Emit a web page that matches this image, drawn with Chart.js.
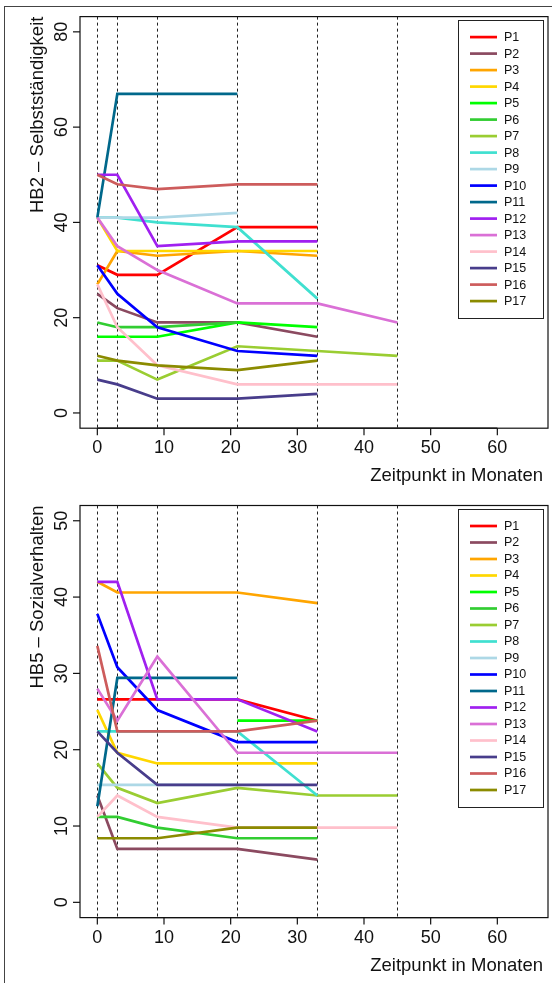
<!DOCTYPE html>
<html>
<head>
<meta charset="utf-8">
<script src="https://cdn.jsdelivr.net/npm/chart.js@4.4.1/dist/chart.umd.min.js"></script>
<style>
  html, body { margin: 0; padding: 0; background: #fff; }
  body { width: 552px; height: 983px; position: relative; overflow: hidden; }
  #frame { position: absolute; left: 4px; top: 6px; width: 600px; height: 1000px;
           border-top: 1px solid #444; border-left: 1px solid #444; }
  canvas { position: absolute; left: 0; }
  #c1 { top: 0; }
  #c2 { top: 490px; }
</style>
</head>
<body>
<div id="frame"></div>
<canvas id="c1" width="552" height="490"></canvas>
<canvas id="c2" width="552" height="493"></canvas>
<script>
// ---------- data ----------
const times = [0, 3, 9, 21, 33, 45];
const markTimes = [0, 3, 9, 21, 33, 45];
const xTicks = [0, 10, 20, 30, 40, 50, 60];
const yTicksHB2 = [0, 20, 40, 60, 80];
const yTicksHB5 = [0, 10, 20, 30, 40, 50];
const seriesNames = ['P1','P2','P3','P4','P5','P6','P7','P8','P9','P10','P11','P12','P13','P14','P15','P16','P17'];
const seriesColors = ['#FF0000','#8B4A60','#FFA500','#FFD700','#00FF00','#32CD32','#9ACD32','#40E0D0',
                      '#ADD8E6','#0000FF','#00688B','#A020F0','#DA70D6','#FFC0CB','#483D8B','#CD5C5C','#8B8B00'];

// HB2 – Selbstständigkeit
const hb2P1  = [31, 29, 29, 39, 39];
const hb2P2  = [25, 22, 19, 19, 16];
const hb2P3  = [27, 34, 33, 34, 33];
const hb2P4  = [41, 34, 34, 34, 34];
const hb2P5  = [16, 16, 16, 19, 18];
const hb2P6  = [19, 18, 18, 19];
const hb2P7  = [11, 11, 7, 14, 13, 12];
const hb2P8  = [41, 41, 40, 39, 24];
const hb2P9  = [41, 41, 41, 42];
const hb2P10 = [31, 25, 18, 13, 12];
const hb2P11 = [41, 67, 67, 67];
const hb2P12 = [50, 50, 35, 36, 36];
const hb2P13 = [41, 35, 30, 23, 23, 19];
const hb2P14 = [27, 18, 10, 6, 6, 6];
const hb2P15 = [7, 6, 3, 3, 4];
const hb2P16 = [50, 48, 47, 48, 48];
const hb2P17 = [12, 11, 10, 9, 11];

// HB5 – Sozialverhalten
const hb5P1  = [26.6, 26.6, 26.6, 26.6, 23.8];
const hb5P2  = [14.0, 7.0, 7.0, 7.0, 5.6];
const hb5P3  = [42.0, 40.6, 40.6, 40.6, 39.2];
const hb5P4  = [25.2, 19.6, 18.2, 18.2, 18.2];
const hb5P5  = [null, null, null, 23.8, 23.8];
const hb5P6  = [11.2, 11.2, 9.8, 8.4, 8.4];
const hb5P7  = [18.2, 15.0, 13.0, 15.0, 14.0, 14.0];
const hb5P8  = [22.4, 22.4, 22.4, 22.4, 14.0];
const hb5P9  = [15.4, 15.4, 15.4, 15.4];
const hb5P10 = [37.8, 30.8, 25.2, 21.0, 21.0];
const hb5P11 = [12.6, 29.4, 29.4, 29.4];
const hb5P12 = [42.0, 42.0, 26.6, 26.6, 22.4];
const hb5P13 = [28.0, 23.8, 32.2, 19.6, 19.6, 19.6];
const hb5P14 = [11.2, 14.0, 11.2, 9.8, 9.8, 9.8];
const hb5P15 = [22.4, 19.6, 15.4, 15.4, 15.4];
const hb5P16 = [33.6, 22.4, 22.4, 22.4, 23.8];
const hb5P17 = [8.4, 8.4, 8.4, 9.8, 9.8];

const hb2Series = [hb2P1,hb2P2,hb2P3,hb2P4,hb2P5,hb2P6,hb2P7,hb2P8,hb2P9,hb2P10,hb2P11,hb2P12,hb2P13,hb2P14,hb2P15,hb2P16,hb2P17];
const hb5Series = [hb5P1,hb5P2,hb5P3,hb5P4,hb5P5,hb5P6,hb5P7,hb5P8,hb5P9,hb5P10,hb5P11,hb5P12,hb5P13,hb5P14,hb5P15,hb5P16,hb5P17];

// ---------- helpers ----------
const FONT = '"Liberation Sans", Arial, Helvetica, sans-serif';
function rRange(lo, hi) { const d = (hi - lo) * 0.04; return [lo - d, hi + d]; }

function makeDatasets(series) {
  return series.map((vals, i) => ({
    label: seriesNames[i],
    data: vals.map((v, k) => (v == null ? null : { x: times[k], y: v })).filter(p => p),
    borderColor: seriesColors[i],
    backgroundColor: seriesColors[i],
    borderWidth: 2.7,
    pointRadius: 0,
    fill: false,
    tension: 0,
    order: series.length - 1 - i
  }));
}

const rAxes = {
  id: 'rAxes',
  beforeDatasetsDraw(chart) {
    const { ctx, chartArea: a, scales: { x } } = chart;
    ctx.save();
    ctx.beginPath(); ctx.rect(a.left, a.top, a.right - a.left, a.bottom - a.top); ctx.clip();
    ctx.strokeStyle = '#222'; ctx.lineWidth = 1; ctx.setLineDash([3, 3]);
    for (const t of markTimes) {
      const px = Math.round(x.getPixelForValue(t)) + 0.5;
      ctx.beginPath(); ctx.moveTo(px, a.top); ctx.lineTo(px, a.bottom); ctx.stroke();
    }
    ctx.restore();
  },
  afterDraw(chart, args, o) {
    const { ctx, chartArea: a, scales: { x, y } } = chart;
    ctx.save();
    ctx.strokeStyle = '#111'; ctx.fillStyle = '#111'; ctx.lineWidth = 1.2;
    // box
    ctx.strokeRect(a.left, a.top, a.right - a.left, a.bottom - a.top);
    // x axis
    const x0 = x.getPixelForValue(xTicks[0]), x1 = x.getPixelForValue(xTicks[xTicks.length - 1]);
    ctx.beginPath(); ctx.moveTo(x0, a.bottom); ctx.lineTo(x1, a.bottom); ctx.stroke();
    ctx.font = '18px ' + FONT; ctx.textAlign = 'center'; ctx.textBaseline = 'middle';
    for (const t of xTicks) {
      const px = x.getPixelForValue(t);
      ctx.beginPath(); ctx.moveTo(px, a.bottom); ctx.lineTo(px, a.bottom + 7); ctx.stroke();
      ctx.fillText(String(t), px, a.bottom + 20);
    }
    // y axis
    const yt = o.yTicks;
    for (const v of yt) {
      const py = y.getPixelForValue(v);
      ctx.beginPath(); ctx.moveTo(a.left, py); ctx.lineTo(a.left - 7, py); ctx.stroke();
      ctx.save(); ctx.translate(a.left - 18, py); ctx.rotate(-Math.PI / 2);
      ctx.fillText(String(v), 0, 0); ctx.restore();
    }
    // axis titles (right-aligned, like par(adj = 1))
    ctx.font = '18.5px ' + FONT;
    ctx.textAlign = 'right';
    ctx.fillText(o.xTitle, a.right - 5, a.bottom + 48);
    ctx.save(); ctx.translate(38, a.top); ctx.rotate(-Math.PI / 2);
    ctx.textAlign = 'right'; ctx.fillText(o.yTitle, 0, 0); ctx.restore();
    // legend
    const lx0 = a.right - 90, lx1 = a.right - 5, ly0 = a.top + 3.5, step = 16.5;
    const n = chart.data.datasets.length;
    ctx.lineWidth = 1; ctx.strokeStyle = '#222';
    ctx.strokeRect(Math.round(lx0) + 0.5, Math.round(ly0) + 0.5, lx1 - lx0, 17 * 2 + step * (n - 1));
    ctx.font = '12.5px ' + FONT; ctx.textAlign = 'left'; ctx.textBaseline = 'middle';
    chart.data.datasets.forEach((ds, i) => {
      const ly = ly0 + 17 + i * step;
      ctx.strokeStyle = ds.borderColor; ctx.lineWidth = 2.7;
      ctx.beginPath(); ctx.moveTo(lx0 + 12, ly); ctx.lineTo(lx0 + 39, ly); ctx.stroke();
      ctx.fillStyle = '#111';
      ctx.fillText(ds.label, lx0 + 46, ly + 0.5);
    });
    ctx.restore();
  }
};

function makeChart(id, series, yLim, pad, opts) {
  const xr = rRange(0, 65), yr = rRange(yLim[0], yLim[1]);
  return new Chart(document.getElementById(id), {
    type: 'line',
    data: { datasets: makeDatasets(series) },
    options: {
      responsive: false, animation: false, devicePixelRatio: 1,
      layout: { padding: pad },
      plugins: { legend: { display: false }, tooltip: { enabled: false }, rAxes: opts },
      scales: {
        x: { type: 'linear', min: xr[0], max: xr[1], display: false },
        y: { type: 'linear', min: yr[0], max: yr[1], display: false }
      }
    },
    plugins: [rAxes]
  });
}

makeChart('c1', hb2Series, [0, 80], { left: 80, top: 16.6, right: 4, bottom: 61.8 },
  { yTicks: yTicksHB2, xTitle: 'Zeitpunkt in Monaten', yTitle: 'HB2 – Selbstständigkeit' });
makeChart('c2', hb5Series, [0, 50], { left: 80, top: 15.5, right: 4, bottom: 65.4 },
  { yTicks: yTicksHB5, xTitle: 'Zeitpunkt in Monaten', yTitle: 'HB5 – Sozialverhalten' });
</script>
</body>
</html>
